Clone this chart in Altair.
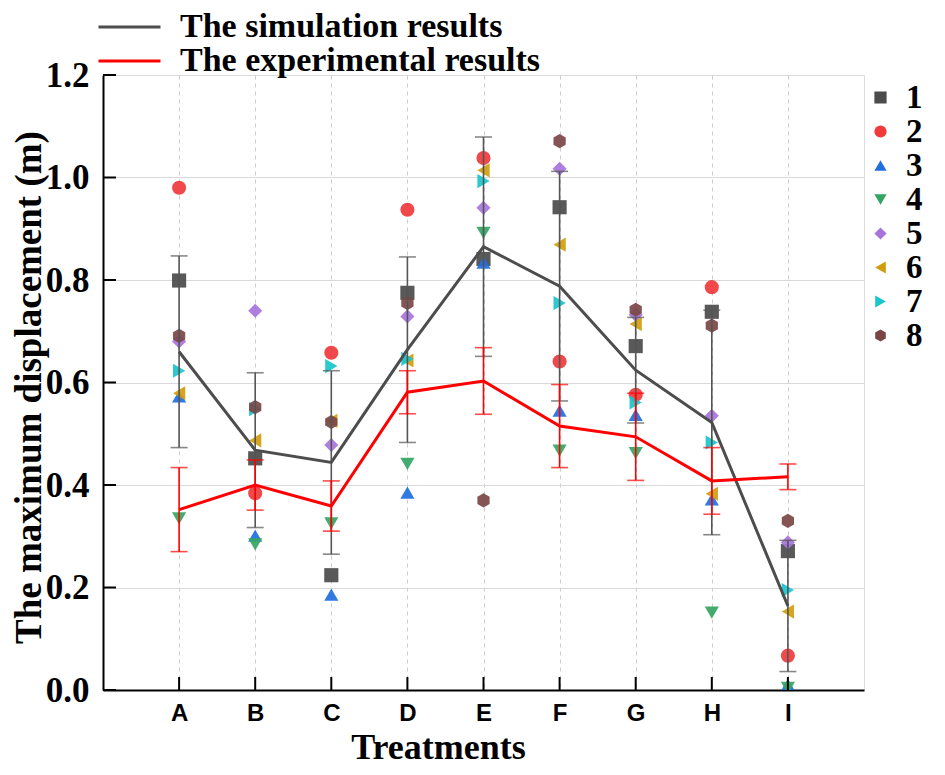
import altair as alt
import pandas as pd

categories = ["A", "B", "C", "D", "E", "F", "G", "H", "I"]

sim_mean = [0.660, 0.468, 0.444, 0.664, 0.865, 0.788, 0.624, 0.522, 0.164]
sim_err = [0.187, 0.151, 0.179, 0.181, 0.214, 0.224, 0.103, 0.219, 0.128]
exp_mean = [0.352, 0.400, 0.359, 0.581, 0.603, 0.515, 0.494, 0.408, 0.416]
exp_err = [0.082, 0.049, 0.049, 0.042, 0.065, 0.081, 0.085, 0.065, 0.025]

s1 = [0.799, 0.452, 0.224, 0.775, 0.841, 0.942, 0.671, 0.738, 0.271]
s2 = [0.980, 0.384, 0.658, 0.937, 1.038, 0.641, 0.576, 0.786, 0.067]
s3 = [0.573, 0.301, 0.186, 0.385, 0.834, 0.545, 0.537, 0.372, 0.010]
s4 = [0.335, 0.284, 0.325, 0.441, 0.892, 0.467, 0.462, 0.151, 0.004]
s5 = [0.680, 0.740, 0.478, 0.729, 0.941, 1.017, 0.732, 0.535, 0.288]
s6 = [0.579, 0.487, 0.525, 0.643, 1.014, 0.869, 0.714, 0.383, 0.153]
s7 = [0.623, 0.548, 0.632, 0.646, 0.993, 0.755, 0.561, 0.483, 0.195]
s8 = [0.691, 0.552, 0.523, 0.755, 0.370, 1.071, 0.742, 0.711, 0.330]

series_ids = ["1", "2", "3", "4", "5", "6", "7", "8"]
series_vals = [s1, s2, s3, s4, s5, s6, s7, s8]
series_colors = ["#4b4b4b", "#f03a3c", "#1f6fe0", "#33a562", "#a874dc", "#d19d0c", "#18c6cc", "#7b4545"]
hexagon = "M0,-1L0.866,-0.5L0.866,0.5L0,1L-0.866,0.5L-0.866,-0.5Z"
series_shapes = ["square", "circle", "triangle-up", "triangle-down", "diamond",
                 "triangle-left", "triangle-right", hexagon]

line_names = ["The simulation results", "The experimental results"]
line_colors = ["#4d4d4d", "#ff0000"]

y_ticks = [0.0, 0.2, 0.4, 0.6, 0.8, 1.0, 1.2]

pts = pd.DataFrame([
    {"cat": c, "id": sid, "v": vals[i]}
    for sid, vals in zip(series_ids, series_vals)
    for i, c in enumerate(categories)
])
sim = pd.DataFrame({"cat": categories, "m": sim_mean, "e": sim_err, "series": line_names[0]})
exp = pd.DataFrame({"cat": categories, "m": exp_mean, "e": exp_err, "series": line_names[1]})
ticks_df = pd.DataFrame({"t": y_ticks})
cats_df = pd.DataFrame({"cat": categories})

W, H = 761, 615
SERIF = "Liberation Serif"

xs = alt.X("cat:N", scale=alt.Scale(type="point", padding=1, domain=categories),
           axis=alt.Axis(title="Treatments", labelFont="Liberation Sans", labelFontWeight="bold",
                         labelFontSize=24, labelColor="black", labelAngle=0, labelPadding=11,
                         ticks=False, grid=True, gridDash=[4, 4], gridColor="#cccccc",
                         titleFont=SERIF, titleFontWeight="bold", titleFontSize=36,
                         titleColor="black", titleX=335, titleY=68,
                         titleBaseline="alphabetic", titleAnchor="middle",
                         domainColor="black", domainWidth=2))
ys = alt.Y("v:Q", scale=alt.Scale(domain=[0, 1.2], nice=False),
           axis=alt.Axis(title="The maximum displacement (m)", values=y_ticks, format=".1f",
                         labelFont=SERIF, labelFontWeight="bold", labelFontSize=35,
                         labelColor="black", labelPadding=14, ticks=False,
                         grid=True, gridColor="#d9d9d9",
                         titleFont=SERIF, titleFontWeight="bold", titleFontSize=37,
                         titleColor="black", titleX=-63, titleY=312,
                         titleBaseline="alphabetic",
                         domainColor="black", domainWidth=2))

pt_legend = dict(orient="none", legendX=761, legendY=6, title=None,
                 labelFont=SERIF, labelFontWeight="bold", labelFontSize=33,
                 labelColor="black", symbolSize=150, symbolOpacity=1,
                 labelOffset=9, rowPadding=0, padding=0, clipHeight=33,
                 symbolStrokeWidth=0)

points = alt.Chart(pts).mark_point(filled=True, size=200, opacity=0.92, clip=True).encode(
    x=xs, y=ys,
    fill=alt.Fill("id:N", scale=alt.Scale(domain=series_ids, range=series_colors),
                  legend=alt.Legend(**pt_legend)),
    shape=alt.Shape("id:N", scale=alt.Scale(domain=series_ids, range=series_shapes),
                    legend=alt.Legend(**pt_legend)),
)


def errbars(df, color):
    base = alt.Chart(df).transform_calculate(lo="datum.m - datum.e", hi="datum.m + datum.e")
    rule = base.mark_rule(color=color, strokeWidth=1.6).encode(x="cat:N", y="lo:Q", y2="hi:Q")
    cap_lo = base.mark_tick(color=color, thickness=1.6, size=17, orient="horizontal").encode(
        x="cat:N", y="lo:Q")
    cap_hi = base.mark_tick(color=color, thickness=1.6, size=17, orient="horizontal").encode(
        x="cat:N", y="hi:Q")
    return rule + cap_lo + cap_hi


lines_df = pd.concat([sim, exp])
lines = alt.Chart(lines_df).mark_line(strokeWidth=3).encode(
    x="cat:N", y="m:Q",
    stroke=alt.Stroke("series:N", scale=alt.Scale(domain=line_names, range=line_colors),
                      legend=alt.Legend(orient="none", legendX=-5, legendY=-63, title=None,
                                        labelFont=SERIF, labelFontWeight="bold",
                                        labelFontSize=34, labelColor="black", labelLimit=0,
                                        symbolType="M-3.3,0L9.1,0", symbolSize=100,
                                        symbolStrokeWidth=3, labelOffset=48,
                                        rowPadding=0, padding=0, clipHeight=30)),
    detail="series:N",
)

xtick = alt.Chart(cats_df).mark_rule(color="black", strokeWidth=2).encode(
    x="cat:N", y=alt.value(H), y2=alt.value(H - 13))
ytick = alt.Chart(ticks_df).mark_rule(color="black", strokeWidth=2).encode(
    y="t:Q", x=alt.value(0), x2=alt.value(13))

chart = alt.layer(
    points,
    errbars(sim, "#555555"),
    errbars(exp, "#ff0000"),
    lines,
    xtick,
    ytick,
).properties(
    width=W, height=H,
    autosize=alt.AutoSizeParams(type="none"),
    padding={"left": 95, "top": 67, "right": 73, "bottom": 77},
).configure_view(
    stroke="black", strokeWidth=2
).configure(background="white")

chart.save("out.html", embed_options={"renderer": "svg", "actions": False})
